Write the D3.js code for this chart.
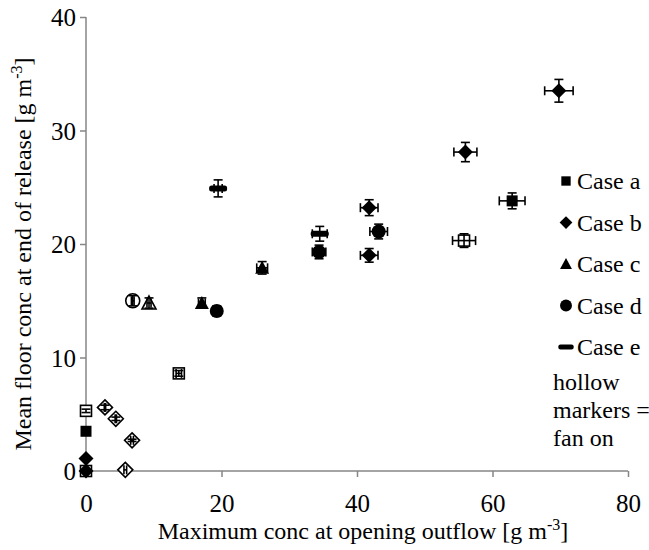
<!DOCTYPE html>
<html><head><meta charset="utf-8">
<script src="https://cdn.jsdelivr.net/npm/d3@7"></script>
<style>body{margin:0;background:#fff}svg{display:block}svg text{font-family:"Liberation Serif","Times New Roman",serif !important;fill:#000}</style>
</head><body><svg id="c" width="649" height="550" font-family="Liberation Serif, serif"></svg>
<script>
const xTicks = [0, 20, 40, 60, 80];
const yTicks = [0, 10, 20, 30, 40];
const caseNames = ["Case a", "Case b", "Case c", "Case d", "Case e"];
const caseShapes = ["square", "diamond", "triangle", "circle", "dash"];

const caseA_x = [0, 0, 13.7, 55.8, 62.9, 0];
const caseA_y = [3.5, 5.3, 8.6, 20.3, 23.8, 0];
const caseA_xerr = [0, 0, 0.4, 1.7, 1.9, 0];
const caseA_yerr = [0.1, 0.15, 0.25, 0.6, 0.7, 0];
const caseA_hollow = [false, true, true, true, false, true];

const caseB_x = [69.8, 56.0, 41.8, 41.8, 0, 0, 2.8, 4.4, 6.8, 5.8];
const caseB_y = [33.5, 28.1, 23.2, 19.0, 1.1, 0, 5.6, 4.6, 2.7, 0.1];
const caseB_xerr = [2.1, 1.7, 1.3, 1.3, 0, 0, 0.1, 0.1, 0.2, 0.2];
const caseB_yerr = [1.0, 0.85, 0.7, 0.6, 0.05, 0, 0.2, 0.15, 0.1, 0];
const caseB_hollow = [false, false, false, false, false, false, true, true, true, true];

const caseC_x = [9.3, 17.1, 26.0];
const caseC_y = [14.8, 14.8, 17.9];
const caseC_xerr = [0.3, 0.5, 0.8];
const caseC_yerr = [0.45, 0.45, 0.55];
const caseC_hollow = [true, false, false];

const caseD_x = [6.9, 19.3, 34.4, 43.2];
const caseD_y = [15.0, 14.1, 19.3, 21.1];
const caseD_xerr = [0.2, 0.6, 1.0, 1.3];
const caseD_yerr = [0.45, 0.45, 0.6, 0.65];
const caseD_hollow = [true, false, false, false];

const caseE_x = [19.5, 34.5];
const caseE_y = [24.9, 20.9];
const caseE_xerr = [0.6, 1.1];
const caseE_yerr = [0.75, 0.65];
const caseE_hollow = [false, false];

const cases = [
  [caseA_x, caseA_y, caseA_xerr, caseA_yerr, caseA_hollow],
  [caseB_x, caseB_y, caseB_xerr, caseB_yerr, caseB_hollow],
  [caseC_x, caseC_y, caseC_xerr, caseC_yerr, caseC_hollow],
  [caseD_x, caseD_y, caseD_xerr, caseD_yerr, caseD_hollow],
  [caseE_x, caseE_y, caseE_xerr, caseE_yerr, caseE_hollow]
].map((c, i) => c[0].map((x, j) => ({x, y: c[1][j], xe: c[2][j], ye: c[3][j], hollow: c[4][j], shape: caseShapes[i]})));

const FONT = "Liberation Serif, serif";
const svg = d3.select("#c");
const x = d3.scaleLinear().domain([0, 80]).range([86, 628]);
const y = d3.scaleLinear().domain([0, 40]).range([471, 17]);
const axisColor = "#868686";

const gx = svg.append("g").attr("transform", `translate(0,${y(0)})`)
  .call(d3.axisBottom(x).tickValues(xTicks).tickSize(6));
const gy = svg.append("g").attr("transform", `translate(${x(0)},0)`)
  .call(d3.axisLeft(y).tickValues(yTicks).tickSize(6).tickPadding(4));
[gx, gy].forEach(g => {
  g.attr("font-family", FONT).attr("font-size", 25);
  g.select(".domain").attr("stroke", axisColor).attr("stroke-width", 1.5);
  g.selectAll(".tick line").attr("stroke", axisColor).attr("stroke-width", 1.5);
  g.selectAll(".tick text").attr("fill", "#000");
});
gx.selectAll(".tick text").attr("y", 41).attr("dy", 0);
gy.selectAll(".tick text").attr("dy", "0.34em");
gx.select(".domain").attr("d", `M${x(0)},0H${x(80)}`);
gy.select(".domain").attr("d", `M0,${y(0)}V${y(40)}`);

function marker(g, shape, hollow, s) {
  const fill = hollow ? "#fff" : "#000";
  const sw = hollow ? 1.6 : 0;
  if (shape === "square") g.append("rect").attr("x", -5.5*s).attr("y", -5.5*s).attr("width", 11*s).attr("height", 11*s);
  else if (shape === "diamond") g.append("path").attr("d", `M0,${-7.5*s}L${7.5*s},0L0,${7.5*s}L${-7.5*s},0Z`);
  else if (shape === "triangle") g.append("path").attr("d", `M0,${-7*s}L${7*s},${6*s}L${-7*s},${6*s}Z`);
  else if (shape === "circle") g.append("circle").attr("r", 7*s);
  else if (shape === "dash") g.append("rect").attr("x", -9*s).attr("y", -3*s).attr("width", 18*s).attr("height", 6*s).attr("rx", 2.5*s);
  g.selectAll("*").attr("fill", fill).attr("stroke", "#000").attr("stroke-width", sw);
}

const pts = svg.append("g");
cases.forEach(cs => cs.forEach(d => {
  const g = pts.append("g").attr("transform", `translate(${x(d.x)},${y(d.y)})`);
  marker(g, d.shape, d.hollow, 1);
  const eb = pts.append("g").attr("stroke", "#000").attr("stroke-width", 1.6).attr("fill", "none");
  const cap = 4.5;
  if (d.xe > 0) {
    eb.append("line").attr("x1", x(d.x - d.xe)).attr("x2", x(d.x + d.xe)).attr("y1", y(d.y)).attr("y2", y(d.y));
    [d.x - d.xe, d.x + d.xe].forEach(v => eb.append("line").attr("x1", x(v)).attr("x2", x(v)).attr("y1", y(d.y) - cap).attr("y2", y(d.y) + cap));
  }
  if (d.ye > 0) {
    eb.append("line").attr("x1", x(d.x)).attr("x2", x(d.x)).attr("y1", y(d.y - d.ye)).attr("y2", y(d.y + d.ye));
    [d.y - d.ye, d.y + d.ye].forEach(v => eb.append("line").attr("x1", x(d.x) - cap).attr("x2", x(d.x) + cap).attr("y1", y(v)).attr("y2", y(v)));
  }
}));

// legend
const leg = svg.append("g").attr("font-family", FONT).attr("font-size", 24);
caseNames.forEach((n, i) => {
  const ly = 181 + i * 41.5;
  const g = leg.append("g").attr("transform", `translate(566,${ly})`);
  marker(g, caseShapes[i], false, 0.85);
  leg.append("text").attr("x", 577).attr("y", ly).attr("dy", "0.34em").text(n);
});
["hollow", "markers =", "fan on"].forEach((t, i) => {
  leg.append("text").attr("x", 553).attr("y", 382 + i * 28).attr("dy", "0.34em").text(t);
});

// axis titles
const xt = svg.append("text").attr("x", 363).attr("y", 539).attr("text-anchor", "middle")
  .attr("font-family", FONT).attr("font-size", 24);
xt.append("tspan").text("Maximum conc at opening outflow [g m");
xt.append("tspan").attr("dy", -9).attr("font-size", 16).text("-3");
xt.append("tspan").attr("dy", 9).text("]");
const yt = svg.append("text").attr("transform", "translate(31,254) rotate(-90)").attr("text-anchor", "middle")
  .attr("font-family", FONT).attr("font-size", 24);
yt.append("tspan").text("Mean floor conc at end of release [g m");
yt.append("tspan").attr("dy", -9).attr("font-size", 16).text("-3");
yt.append("tspan").attr("dy", 9).text("]");
</script></body></html>
